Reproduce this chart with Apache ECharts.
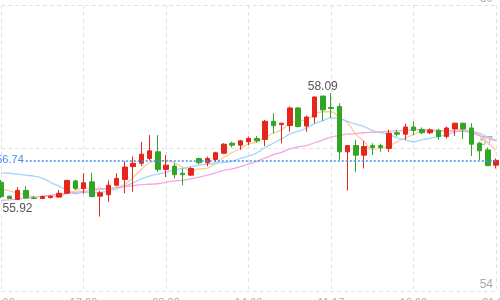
<!DOCTYPE html>
<html><head><meta charset="utf-8">
<script src="https://cdn.jsdelivr.net/npm/echarts@6/dist/echarts.min.js"></script>
<style>html,body{margin:0;padding:0;background:#fff}#c{width:500px;height:300px}</style>
</head><body><div id="c"></div>
<script>
const tickLabels = ['09:00','17:00','03:00','14:00','11:17','16:00','21:00'];
const openVals = [
56.28,55.99,55.92,56.11,55.95,55.94,55.96,55.97,56.05,56.31,
56.15,56.29,55.99,56.02,56.22,56.34,56.61,56.68,56.78,56.92,
56.55,56.62,56.47,56.43,56.78,56.69,56.76,56.89,57.10,57.06,
57.13,57.20,57.18,57.56,57.49,57.47,57.84,57.46,57.65,58.09,
57.85,57.87,56.92,57.05,56.85,57.05,57.05,56.99,57.32,57.29,
57.44,57.39,57.32,57.37,57.24,57.40,57.52,57.42,57.10,56.96,
56.64];
const closeVals = [
55.98,55.94,56.11,55.95,55.94,55.98,55.99,56.05,56.32,56.15,
56.27,55.98,56.06,56.22,56.36,56.60,56.68,56.87,56.94,56.55,
56.64,56.44,56.44,56.57,56.69,56.78,56.90,57.08,57.06,57.15,
57.20,57.15,57.56,57.47,57.52,57.84,57.45,57.65,58.07,57.80,
57.83,56.92,57.05,56.85,57.03,57.01,57.01,57.31,57.29,57.44,
57.37,57.32,57.38,57.24,57.42,57.52,57.40,57.08,56.94,56.63,
56.74];
const lowVals = [
55.95,55.93,55.92,55.94,55.93,55.93,55.94,55.96,56.04,56.12,
56.04,55.97,55.56,55.87,56.20,56.05,56.08,56.62,56.74,56.50,
56.39,56.36,56.22,56.42,56.66,56.62,56.71,56.87,57.01,56.96,
57.06,57.11,57.04,57.31,57.10,57.34,57.43,57.34,57.52,57.57,
57.63,56.75,56.11,56.50,56.57,56.85,56.92,56.92,57.24,57.17,
57.27,57.29,57.29,57.17,57.20,57.25,57.19,56.83,56.75,56.62,
56.57];
const highVals = [
56.33,56.00,56.18,56.20,55.99,56.00,56.01,56.12,56.33,56.33,
56.47,56.48,56.10,56.32,56.47,56.72,56.82,57.13,57.27,57.27,
56.85,56.68,56.57,56.60,56.80,56.82,56.92,57.10,57.13,57.17,
57.24,57.25,57.59,57.73,57.53,57.87,57.86,57.68,58.08,58.09,
58.15,57.94,57.06,57.17,57.15,57.10,57.09,57.38,57.38,57.51,
57.56,57.43,57.41,57.40,57.45,57.53,57.53,57.52,57.13,57.01,
56.78];
const ma5 = [
56.14,56.10,56.06,56.02,55.98,55.98,55.99,55.98,56.06,56.10,
56.16,56.15,56.16,56.14,56.18,56.24,56.38,56.55,56.69,56.73,
56.74,56.69,56.60,56.53,56.56,56.58,56.68,56.80,56.90,56.99,
57.08,57.13,57.22,57.31,57.38,57.51,57.57,57.59,57.71,57.76,
57.76,57.65,57.53,57.29,57.14,56.97,56.99,57.04,57.13,57.21,
57.28,57.35,57.36,57.35,57.35,57.38,57.39,57.33,57.27,57.11,
56.96];
const ma10 = [
56.48,56.47,56.45,56.43,56.41,56.37,56.28,56.20,56.12,56.04,
56.07,56.07,56.07,56.10,56.14,56.20,56.27,56.35,56.41,56.45,
56.49,56.54,56.57,56.61,56.64,56.66,56.68,56.70,56.72,56.78,
56.83,56.90,57.01,57.10,57.19,57.29,57.35,57.41,57.51,57.57,
57.63,57.61,57.56,57.50,57.45,57.37,57.32,57.29,57.21,57.17,
57.13,57.17,57.20,57.24,57.28,57.33,57.37,57.35,57.31,57.23,
57.16];
const ma20 = [
55.90,55.91,55.93,55.95,55.97,55.99,56.01,56.03,56.05,56.07,
56.09,56.11,56.13,56.15,56.17,56.19,56.21,56.23,56.24,56.25,
56.28,56.31,56.32,56.35,56.39,56.43,56.48,56.53,56.56,56.61,
56.66,56.72,56.79,56.86,56.91,56.98,57.02,57.05,57.11,57.17,
57.23,57.26,57.29,57.30,57.32,57.33,57.34,57.35,57.36,57.37,
57.38,57.39,57.38,57.37,57.36,57.35,57.35,57.32,57.26,57.20,
57.15];
const lastPrice = 56.74;
const maxOpenIdx = 39, minOpenIdx = 2;
const lineStartPos = 2.7;

const categories = openVals.map((_, i) => i % 10 === 0 ? tickLabels[i / 10] : tickLabels[Math.floor(i / 10)] + '#' + i);
const kData = openVals.map((o, i) => [o, closeVals[i], lowVals[i], highVals[i]]);

const chart = echarts.init(document.getElementById('c'), null, {renderer: 'canvas'});
const splitStyle = {color: '#e2e2e2', type: [4, 3], width: 1};
const font = 'Liberation Sans, sans-serif';
chart.setOption({
  animation: false,
  grid: {left: 1, right: 4, top: 5, bottom: 9, containLabel: false, outerBoundsMode: 'none'},
  xAxis: {
    type: 'category', data: categories, boundaryGap: false,
    axisLine: {show: false}, axisTick: {show: false},
    axisLabel: {interval: 9, color: '#aaa', fontSize: 11, margin: 6, hideOverlap: false,
      fontFamily: font, formatter: v => v.indexOf('#') >= 0 ? '' : v},
    splitLine: {show: true, interval: 9, lineStyle: splitStyle}
  },
  yAxis: {
    type: 'value', position: 'right', min: 54, max: 60, interval: 3, scale: true,
    axisLine: {show: false}, axisTick: {show: false},
    axisLabel: {inside: true, color: '#aaa', fontSize: 12, margin: 3, verticalAlign: 'bottom',
      fontFamily: font},
    splitLine: {show: true, lineStyle: splitStyle}
  },
  series: [
    {name: 'MA5', type: 'line', data: ma5, smooth: true, symbol: 'none', z: 1,
      lineStyle: {color: '#fccb98', width: 1.3}},
    {name: 'MA10', type: 'line', data: ma10, smooth: true, symbol: 'none', z: 1,
      lineStyle: {color: '#a3d5f7', width: 1.3}},
    {name: 'MA20', type: 'line', data: ma20, smooth: true, symbol: 'none', z: 1,
      lineStyle: {color: '#f6a6de', width: 1.3}},
    {name: 'K', type: 'candlestick', data: kData, z: 3, barWidth: 5,
      itemStyle: {color: '#e5261a', color0: '#33a526', borderColor: '#e5261a', borderColor0: '#33a526', borderWidth: 1},
      markLine: {
        symbol: 'none', silent: true,
        lineStyle: {color: '#3d8ef0', type: [2, 2], width: 1.5},
        label: {position: 'start', distance: 2, color: '#3d8ef0', fontSize: 11,
          fontFamily: font, formatter: String(lastPrice)},
        data: [[{coord: [lineStartPos, lastPrice]}, {coord: [categories.length - 1, lastPrice]}]]
      },
      markPoint: {
        symbol: 'circle', symbolSize: 1, itemStyle: {color: 'rgba(0,0,0,0)'},
        label: {color: '#555', fontSize: 12, fontFamily: font},
        data: [
          {coord: [categories[maxOpenIdx], openVals[maxOpenIdx]], value: openVals[maxOpenIdx],
            label: {position: 'top', distance: 3, formatter: openVals[maxOpenIdx].toFixed(2)}},
          {coord: [categories[minOpenIdx], openVals[minOpenIdx]], value: openVals[minOpenIdx],
            label: {position: 'bottom', distance: 3, formatter: openVals[minOpenIdx].toFixed(2)}}
        ]
      }
    }
  ]
});
</script></body></html>
